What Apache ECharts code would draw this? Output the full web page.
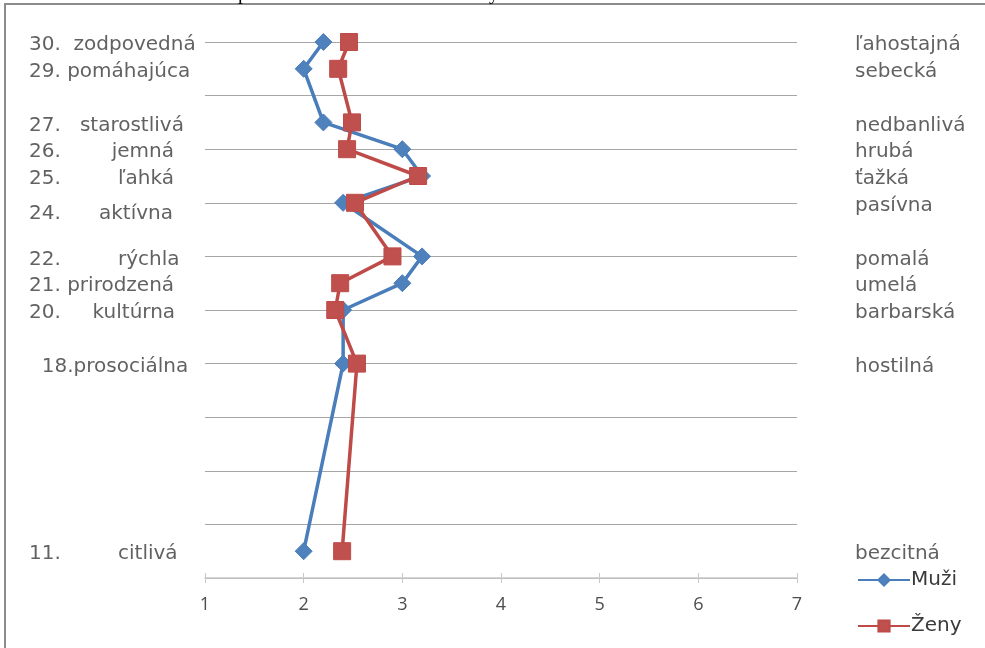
<!DOCTYPE html>
<html><head><meta charset="utf-8">
<script src="https://cdn.jsdelivr.net/npm/echarts@6/dist/echarts.min.js"></script>
<style>html,body{margin:0;padding:0;background:#fff}#c{width:985px;height:648px}</style>
</head><body><div id="c"></div>
<script>
// item numbers (y position on the scale) and the semantic-differential pairs
var itemNums = [30, 29, 27, 26, 25, 24, 22, 21, 20, 18, 11];
var leftLabels = ["30.  zodpovedná", "29. pomáhajúca", "27.   starostlivá", "26.        jemná", "25.         ľahká", "24.      aktívna", "22.         rýchla", "21. prirodzená", "20.     kultúrna", "  18.prosociálna", "11.         citlivá"];
var rightLabels = ["ľahostajná", "sebecká", "nedbanlivá", "hrubá", "ťažká", "pasívna", "pomalá", "umelá", "barbarská", "hostilná", "bezcitná"];
// mean ratings (1..7)
var muzi = [2.2, 2.0, 2.2, 3.0, 3.2, 2.4, 3.2, 3.0, 2.4, 2.4, 2.0];
var zeny = [2.46, 2.35, 2.49, 2.44, 3.16, 2.52, 2.9, 2.37, 2.32, 2.54, 2.39];
var xTicks = [1, 2, 3, 4, 5, 6, 7];
var seriesNames = ["Muži", "Ženy"];

var FONT = "Open Sans";
var LFONT = "DejaVu Sans";
var chart = echarts.init(document.getElementById('c'));
function pairs(vals) { return vals.map(function (v, i) { return [v, itemNums[i]]; }); }

var leftData = itemNums.map(function (n, i) {
  return { value: [xTicks[0], n], label: { formatter: leftLabels[i], offset: [-176, n === 24 ? 11 : 3] } };
});
var rightData = itemNums.map(function (n, i) {
  return { value: [xTicks[xTicks.length - 1], n], label: { formatter: rightLabels[i], offset: [58, 3] } };
});

chart.setOption({
  animation: false,
  backgroundColor: '#fff',
  textStyle: { fontFamily: FONT },
  grid: { left: 205, right: 188, top: 42, bottom: 70 },
  xAxis: [{
    type: 'value', min: xTicks[0], max: xTicks[xTicks.length - 1], interval: 1,
    axisLine: { show: true, lineStyle: { color: '#c8c8c8', width: 1.5 } },
    axisTick: { show: true, length: 5, lineStyle: { color: '#c8c8c8' } },
    axisLabel: { color: '#4d4d4d', fontSize: 18, margin: 18, fontFamily: FONT },
    splitLine: { show: false }
  }, {
    type: 'value', min: xTicks[0], max: xTicks[xTicks.length - 1], interval: 1, position: 'bottom',
    axisLine: { show: false },
    axisTick: { show: true, inside: true, length: 5, lineStyle: { color: '#c8c8c8' } },
    axisLabel: { show: false }, splitLine: { show: false }
  }],
  yAxis: {
    type: 'value', min: 10, max: 30, interval: 2,
    axisLine: { show: false }, axisTick: { show: false }, axisLabel: { show: false },
    splitLine: { show: true, lineStyle: { color: '#a6a6a6', width: 1 } }
  },
  legend: {
    data: seriesNames, orient: 'vertical', left: 852, top: 565,
    itemWidth: 52, itemHeight: 14, itemGap: 26,
    textStyle: { fontSize: 20, color: '#3a3a3a', fontFamily: LFONT, padding: [0, 0, 0, -4] }
  },
  series: [{
    name: seriesNames[0], type: 'line', data: pairs(muzi),
    symbol: 'diamond', symbolSize: 17,
    lineStyle: { color: '#4A7EBB', width: 3.5 },
    itemStyle: { color: '#4F81BD', borderColor: '#4A7EBB', borderWidth: 1 },
    z: 3
  }, {
    name: seriesNames[1], type: 'line', data: pairs(zeny),
    symbol: 'rect', symbolSize: 17,
    lineStyle: { color: '#BE4B48', width: 3.5 },
    itemStyle: { color: '#C0504D', borderColor: '#BE4B48', borderWidth: 1 },
    z: 4
  }, {
    name: 'leftLabels', type: 'scatter', data: leftData, symbolSize: 0, silent: true,
    label: { show: true, position: 'inside', align: 'left', verticalAlign: 'middle', fontSize: 20, color: '#3a3a3a', fontFamily: LFONT }
  }, {
    name: 'rightLabels', type: 'scatter', data: rightData, symbolSize: 0, silent: true,
    label: { show: true, position: 'inside', align: 'left', verticalAlign: 'middle', fontSize: 20, color: '#3a3a3a', fontFamily: LFONT }
  }],
  graphic: [
    { type: 'rect', shape: { x: 5, y: 4, width: 1100, height: 800 }, style: { fill: null, stroke: '#8c8c8c', lineWidth: 2 }, silent: true },
    { type: 'text', x: 238, y: -16, style: { text: 'p', font: '20px "Liberation Serif"', fill: '#000' } },
    { type: 'text', x: 489, y: -16, style: { text: 'y', font: '20px "Liberation Serif"', fill: '#000' } }
  ]
});
</script></body></html>
